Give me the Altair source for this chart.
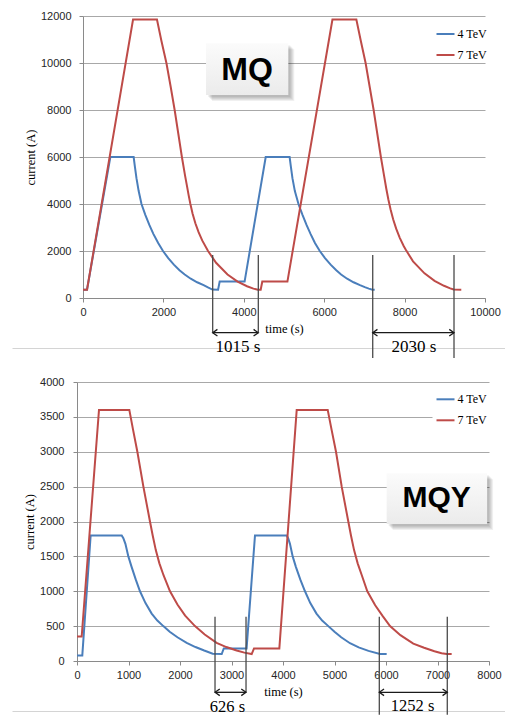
import altair as alt
import pandas as pd

SERIES = ["4 TeV", "7 TeV"]
COLORS = ["#4a7ebb", "#be4b48"]

# ---------------- MQ (top panel) ----------------
mq_t_4tev = [0, 100, 680, 1260, 1290, 1330, 1385, 1455, 1550, 1650, 1750, 1870, 1990, 2120,
             2260, 2400, 2530, 2680, 2840, 3000, 3120, 3220,
             3360, 3400, 4020, 4545, 5140, 5170, 5210, 5270, 5360, 5460, 5560, 5660, 5770,
             5890, 6020, 6160, 6300, 6420, 6570, 6730, 6890, 7010, 7110, 7200, 7256]
mq_a_4tev = [350, 350, 6000, 6000, 5600, 5100, 4550, 4000, 3540, 3110, 2730, 2340, 2000, 1700,
             1420, 1180, 1000, 820, 670, 545, 440, 360,
             350, 700, 700, 6000, 6000, 5600, 5100, 4550, 4000, 3540, 3110, 2730, 2340,
             2000, 1700, 1420, 1180, 1000, 820, 670, 545, 460, 400, 355, 350]
mq_t_7tev = [0, 100, 1245, 1840, 1950, 2075, 2180, 2280, 2370, 2460, 2540, 2585, 2625, 2670,
             2725, 2795, 2875, 2965, 3110, 3310, 3595, 3845, 4080, 4240, 4350, 4420, 4460,
             5085, 6205, 6800, 6910, 7030, 7130, 7230, 7320, 7410, 7490, 7545, 7595, 7650,
             7715, 7790, 7880, 7980, 8030, 8210, 8495, 8745, 8980, 9135, 9220, 9410]
mq_a_7tev = [350, 350, 11850, 11850, 10950, 10000, 9000, 8000, 7000, 6000, 5200, 4780, 4400,
             4010, 3600, 3180, 2800, 2450, 2000, 1500, 1000, 700, 500, 400, 350, 350, 700,
             700, 11850, 11850, 10950, 10000, 9000, 8000, 7000, 6000, 5200, 4650, 4200, 3780,
             3350, 2950, 2560, 2200, 2050, 1560, 1050, 730, 520, 410, 360, 350]
mq_x_ticks = [0, 2000, 4000, 6000, 8000, 10000]
mq_y_ticks = [0, 2000, 4000, 6000, 8000, 10000, 12000]
mq_marker_t = [3226, 4361, 7207, 9229]
mq_marker_top = [1830, 1830, 1830, 1830]
mq_marker_bottom = [-1447, -1447, -2553, -2553]
mq_arrow_start = [3226, 7207]
mq_arrow_end = [4361, 9229]
mq_arrow_level = [-1477, -1477]
mq_label_text = ["1015 s", "2030 s"]
mq_label_t = [3856, 8234]
mq_label_a = [-2098, -2085]
mq_box = {"t": [3060], "t2": [5107], "A": [10838], "A2": [8638]}
mq_box_label = {"t": [4080], "A": [9702], "txt": ["MQ"]}

# ---------------- MQY (bottom panel) ----------------
mqy_t_4tev = [0, 103, 265, 868, 900, 940, 997, 1060, 1140, 1223, 1330, 1450, 1560, 1676,
              1800, 1950, 2130, 2300, 2470, 2635, 2810, 2850, 3293, 3456, 4072, 4100, 4135,
              4188, 4250, 4335, 4427, 4530, 4650, 4760, 4880, 5000, 5130, 5301, 5470, 5660,
              5883, 6013]
mqy_a_4tev = [80, 80, 1800, 1800, 1760, 1680, 1500, 1350, 1170, 1000, 830, 680, 580, 500,
              420, 340, 260, 200, 150, 105, 100, 180, 180, 1800, 1800, 1760, 1680,
              1500, 1350, 1170, 1000, 830, 680, 580, 500, 420, 340, 255, 195, 145,
              102, 100]
mqy_t_7tev = [0, 91, 427, 1016, 1090, 1172, 1289, 1417, 1470, 1530, 1600, 1680, 1806, 1950,
              2100, 2291, 2480, 2711, 2900, 3100, 3250, 3392, 3437, 3929, 4266, 4868, 4945,
              5029, 5140, 5268, 5320, 5380, 5450, 5530, 5637, 5790, 5940, 6078, 6280, 6530,
              6740, 6940, 7080, 7178, 7275]
mqy_a_7tev = [350, 350, 3600, 3600, 3310, 3000, 2500, 2000, 1800, 1590, 1400, 1230, 1000, 810,
              650, 500, 380, 260, 200, 150, 120, 100, 180, 180, 3600, 3600, 3310,
              3000, 2500, 2000, 1800, 1590, 1400, 1230, 1000, 800, 640, 500, 370, 250,
              190, 140, 112, 100, 100]
mqy_x_ticks = [0, 1000, 2000, 3000, 4000, 5000, 6000, 7000, 8000]
mqy_y_ticks = [0, 500, 1000, 1500, 2000, 2500, 3000, 3500, 4000]
mqy_marker_t = [2680, 3282, 5870, 7190]
mqy_marker_top = [635, 635, 635, 635]
mqy_marker_bottom = [-449, -449, -772, -772]
mqy_arrow_start = [2680, 5870]
mqy_arrow_end = [3282, 7190]
mqy_arrow_level = [-449, -449]
mqy_label_text = ["626 s", "1252 s"]
mqy_label_t = [2922, 6515]
mqy_label_a = [-655, -648]
mqy_box = {"t": [6013], "t2": [7963], "A": [2691], "A2": [1964]}
mqy_box_label = {"t": [6984], "A": [2330], "txt": ["MQY"]}

SANS = "Liberation Sans"
SERIF = "Liberation Serif"
GRID = "#a8a8a8"
AXIS = "#8a8a8a"


def series_frame(t4, a4, t7, a7):
    return pd.DataFrame({
        "t": list(t4) + list(t7),
        "A": list(a4) + list(a7),
        "s": ["4 TeV"] * len(t4) + ["7 TeV"] * len(t7),
    })


def panel(df, xs, ys, xticks, yticks, yoffset, ylabpad, legend_y, legend_fill,
          mt, mtop, mbot, a0, a1, alev, ltxt, lt, la, lsize, box, boxlab, box_size, sep_y,
          width, height, guard):
    xaxis = alt.Axis(
        values=xticks, format="d", title="time (s)", grid=False,
        domainColor=AXIS, tickColor=AXIS, tickSize=4,
        labelFont=SANS, labelFontSize=11, labelColor="#262626", labelPadding=4,
        labelFlush=False, labelOverlap=False,
        titleFont=SERIF, titleFontSize=12.5, titleFontWeight="normal",
        titleColor="black", titlePadding=5)
    yaxis = alt.Axis(
        values=yticks, format="d", title="current (A)", grid=True,
        gridColor=GRID, gridWidth=1, offset=yoffset,
        domainColor=AXIS, tickColor=AXIS, tickSize=4,
        labelFont=SANS, labelFontSize=11, labelColor="#262626", labelPadding=ylabpad,
        labelOverlap=False,
        titleFont=SERIF, titleFontSize=12.5, titleFontWeight="normal",
        titleColor="black", titlePadding=3)
    X = lambda f: alt.X(f, type="quantitative", scale=xs, axis=xaxis, title="time (s)")
    Y = lambda f: alt.Y(f, type="quantitative", scale=ys, axis=yaxis, title="current (A)")

    legend_kw = dict(
        orient="none", legendX=349.5, legendY=legend_y, title=None,
        symbolType="stroke", symbolSize=324, symbolStrokeWidth=2,
        labelFont=SERIF, labelFontSize=12, labelColor="black", labelOffset=2,
        rowPadding=5, padding=3,
    )
    if legend_fill:
        legend_kw["fillColor"] = "white"

    lines = alt.Chart(df).mark_line(strokeWidth=2).encode(
        x=X("t"), y=Y("A"),
        color=alt.Color("s:N", scale=alt.Scale(domain=SERIES, range=COLORS),
                        legend=alt.Legend(**legend_kw)),
    )

    one = pd.DataFrame({"k": [0]})
    sep = alt.Chart(one).mark_rule(color="#d4d4d4", strokeWidth=1).encode(
        x=alt.value(-70.5), x2=alt.value(422), y=alt.value(sep_y))

    vlines = alt.Chart(pd.DataFrame({"t": mt, "A": mtop, "A2": mbot})).mark_rule(
        color="#4a4a4a", strokeWidth=1.3).encode(x=X("t"), y=Y("A"), y2="A2:Q")
    arrows_df = pd.DataFrame({"t": a0, "t2": a1, "A": alev})
    shafts = alt.Chart(arrows_df).mark_rule(color="#1a1a1a", strokeWidth=1.3).encode(
        x=X("t"), x2="t2:Q", y=Y("A"))
    head_l = alt.Chart(arrows_df).mark_point(
        shape="M1,-0.7L0,0L1,0.7", filled=False, size=90, strokeWidth=1.3,
        color="#1a1a1a", opacity=1).encode(x=X("t"), y=Y("A"))
    head_r = alt.Chart(arrows_df).mark_point(
        shape="M-1,-0.7L0,0L-1,0.7", filled=False, size=90, strokeWidth=1.3,
        color="#1a1a1a", opacity=1).encode(x=X("t2"), y=Y("A"))
    labels = alt.Chart(pd.DataFrame({"t": lt, "A": la, "txt": ltxt})).mark_text(
        font=SERIF, fontSize=lsize, color="black", align="center", baseline="middle").encode(
        x=X("t"), y=Y("A"), text="txt:N")

    box_df = pd.DataFrame(box)
    shadows = [
        alt.Chart(box_df).mark_rect(color="black", opacity=0.06, xOffset=k, x2Offset=k,
                                    yOffset=k, y2Offset=k).encode(
            x=X("t"), x2="t2:Q", y=Y("A"), y2="A2:Q")
        for k in (6, 5, 4, 3, 2)
    ]
    box_rect = alt.Chart(box_df).mark_rect(
        color=alt.Gradient(gradient="linear",
                           stops=[alt.GradientStop(color="#fbfbfb", offset=0),
                                  alt.GradientStop(color="#ebebeb", offset=1)],
                           x1=0, x2=0, y1=0, y2=1)).encode(
        x=X("t"), x2="t2:Q", y=Y("A"), y2="A2:Q")
    box_text = alt.Chart(pd.DataFrame(boxlab)).mark_text(
        font=SANS, fontWeight="bold", fontSize=box_size, color="black",
        align="center", baseline="middle").encode(x=X("t"), y=Y("A"), text="txt:N")

    layers = [lines, sep, vlines, shafts, head_l, head_r, labels] + shadows + [box_rect, box_text]
    if guard:
        layers.append(alt.Chart(one).mark_rule(color="white", strokeWidth=1).encode(
            x=alt.value(0), x2=alt.value(2), y=alt.value(-15.5)))
    return alt.layer(*layers).properties(width=width, height=height)


top = panel(
    series_frame(mq_t_4tev, mq_a_4tev, mq_t_7tev, mq_a_7tev),
    alt.Scale(domain=[0, 10000], nice=False, zero=False),
    alt.Scale(domain=[0, 12000], nice=False, zero=False),
    mq_x_ticks, mq_y_ticks, 0, 8, 5, False,
    mq_marker_t, mq_marker_top, mq_marker_bottom,
    mq_arrow_start, mq_arrow_end, mq_arrow_level,
    mq_label_text, mq_label_t, mq_label_a, 17, mq_box, mq_box_label, 32,
    332.5, 402, 282, True)

bottom = panel(
    series_frame(mqy_t_4tev, mqy_a_4tev, mqy_t_7tev, mqy_a_7tev),
    alt.Scale(domain=[0, 8000], nice=False, zero=False, range=[-6, 406]),
    alt.Scale(domain=[0, 4000], nice=False, zero=False),
    mqy_x_ticks, mqy_y_ticks, 6, 9, 4.3, True,
    mqy_marker_t, mqy_marker_top, mqy_marker_bottom,
    mqy_arrow_start, mqy_arrow_end, mqy_arrow_level,
    mqy_label_text, mqy_label_t, mqy_label_a, 16.5, mqy_box, mqy_box_label, 30,
    329.5, 406, 279, False)

chart = alt.vconcat(top, bottom, spacing=84, bounds="flush").resolve_legend(
    color="independent").properties(
    padding={"left": 12, "top": 0, "right": 0, "bottom": 0},
    background="white",
).configure_view(strokeWidth=0)

chart.save("out.html", embed_options={"renderer": "svg", "actions": False})
